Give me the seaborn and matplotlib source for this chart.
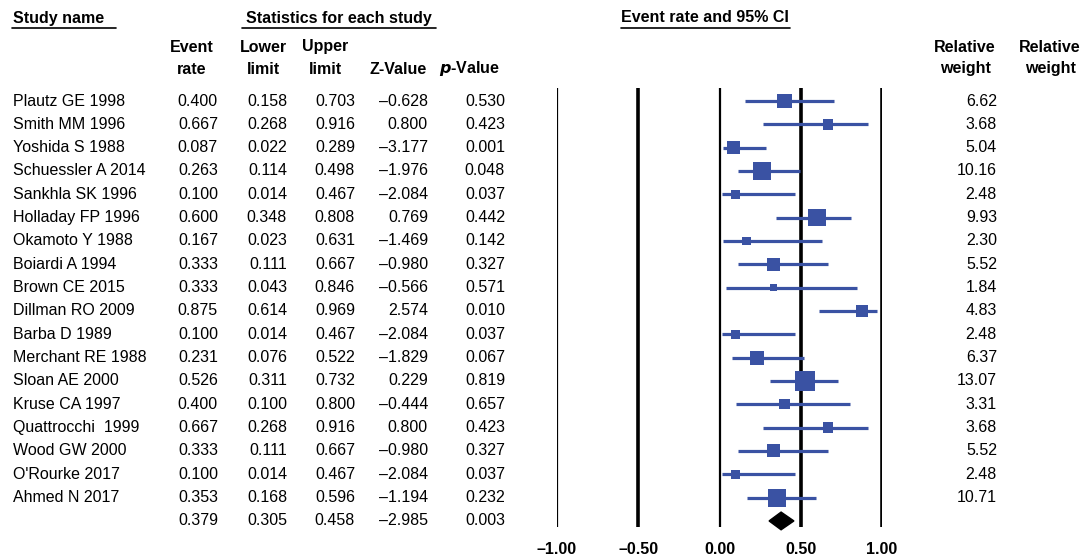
import numpy as np
import pandas as pd
import matplotlib
matplotlib.use("Agg")
import matplotlib.pyplot as plt
import seaborn as sns
from matplotlib import transforms
from matplotlib.lines import Line2D

# ---------------- data ----------------
studies = ["Plautz GE 1998", "Smith MM 1996", "Yoshida S 1988", "Schuessler A 2014",
           "Sankhla SK 1996", "Holladay FP 1996", "Okamoto Y 1988", "Boiardi A 1994",
           "Brown CE 2015", "Dillman RO 2009", "Barba D 1989", "Merchant RE 1988",
           "Sloan AE 2000", "Kruse CA 1997", "Quattrocchi  1999", "Wood GW 2000",
           "O'Rourke 2017", "Ahmed N 2017"]
event_rate = [0.400, 0.667, 0.087, 0.263, 0.100, 0.600, 0.167, 0.333, 0.333,
              0.875, 0.100, 0.231, 0.526, 0.400, 0.667, 0.333, 0.100, 0.353]
lower = [0.158, 0.268, 0.022, 0.114, 0.014, 0.348, 0.023, 0.111, 0.043,
         0.614, 0.014, 0.076, 0.311, 0.100, 0.268, 0.111, 0.014, 0.168]
upper = [0.703, 0.916, 0.289, 0.498, 0.467, 0.808, 0.631, 0.667, 0.846,
         0.969, 0.467, 0.522, 0.732, 0.800, 0.916, 0.667, 0.467, 0.596]
z_value = [-0.628, 0.800, -3.177, -1.976, -2.084, 0.769, -1.469, -0.980, -0.566,
           2.574, -2.084, -1.829, 0.229, -0.444, 0.800, -0.980, -2.084, -1.194]
p_value = [0.530, 0.423, 0.001, 0.048, 0.037, 0.442, 0.142, 0.327, 0.571,
           0.010, 0.037, 0.067, 0.819, 0.657, 0.423, 0.327, 0.037, 0.232]
weight = [6.62, 3.68, 5.04, 10.16, 2.48, 9.93, 2.30, 5.52, 1.84,
          4.83, 2.48, 6.37, 13.07, 3.31, 3.68, 5.52, 2.48, 10.71]
summary_rate, summary_lower, summary_upper = 0.379, 0.305, 0.458
summary_z, summary_p = -2.985, 0.003
x_ticks = [-1.0, -0.5, 0.0, 0.5, 1.0]
x_tick_labels = ["\u20131.00", "\u20130.50", "0.00", "0.50", "1.00"]

# ---------------- styles ----------------
W, H = 1085, 560
BLUE = "#3A52A3"
FS = 11.5
vline_widths = [1.6, 2.6, 1.6, 2.6, 2.6]

sns.set_style("white")
plt.rcParams["font.family"] = ["Liberation Sans", "DejaVu Sans"]
plt.rcParams["text.color"] = "black"
plt.rcParams["xtick.color"] = "black"
plt.rcParams["xtick.labelcolor"] = "black"

df = pd.DataFrame({"study": studies, "rate": event_rate, "lower": lower,
                   "upper": upper, "z": z_value, "p": p_value, "weight": weight})
df["row"] = np.arange(len(df))
summary_row = len(df)

fig = plt.figure(figsize=(W / 100, H / 100), dpi=100)
ax_left, ax_right = 557 / W, 882 / W
ax_top, ax_bottom = 88, 527
ax = fig.add_axes([ax_left, 1 - ax_bottom / H, ax_right - ax_left, (ax_bottom - ax_top) / H])

row_px = 23.33
ax.set_xlim(x_ticks[0], x_ticks[-1])
ax.set_ylim((ax_bottom - 101) / row_px, (ax_top - 101) / row_px)

for t, lw in zip(x_ticks, vline_widths):
    ax.axvline(t, color="black", lw=lw, zorder=1)

ax.hlines(df["row"], df["lower"], df["upper"], color=BLUE, lw=2.3, zorder=2)
wmin, wmax = min(weight), max(weight)
k = 15.7
sns.scatterplot(data=df, x="rate", y="row", size="weight",
                sizes=(k * wmin, k * wmax), size_norm=(wmin, wmax),
                marker="s", color=BLUE, linewidth=0, legend=False,
                ax=ax, zorder=3, clip_on=False)

dh = 0.38
ax.fill([summary_lower, summary_rate, summary_upper, summary_rate],
        [summary_row, summary_row - dh, summary_row, summary_row + dh],
        color="black", zorder=3, clip_on=False)

for s in ax.spines.values():
    s.set_visible(False)
ax.set_yticks([])
ax.set_xticks(x_ticks)
ax.set_xticklabels(x_tick_labels, fontsize=FS, fontweight="bold", color="black")
ax.tick_params(axis="x", length=0, pad=11)
ax.set_xlabel("")
ax.set_ylabel("")

# ---------------- text columns ----------------
trans = transforms.blended_transform_factory(fig.transFigure, ax.transData)

def col(xpx, values, fmt, ha="right", extra=None):
    for r, v in zip(df["row"], values):
        ax.text(xpx / W, r, fmt(v), transform=trans, ha=ha, va="center",
                fontsize=FS, color="black", clip_on=False)
    if extra is not None:
        ax.text(xpx / W, summary_row, fmt(extra), transform=trans, ha=ha,
                va="center", fontsize=FS, color="black", clip_on=False)

num = lambda v: f"{v:.3f}".replace("-", "\u2013")
col(13, df["study"], str, ha="left")
col(218, df["rate"], num, extra=summary_rate)
col(287, df["lower"], num, extra=summary_lower)
col(355, df["upper"], num, extra=summary_upper)
col(428, df["z"], num, extra=summary_z)
col(505, df["p"], num, extra=summary_p)
col(997, df["weight"], lambda v: f"{v:.2f}")

# ---------------- headers ----------------
def ftext(xpx, ypx, s, ha="center", **kw):
    return fig.text(xpx / W, 1 - ypx / H, s, ha=ha, va="center", color="black",
                    fontsize=FS, fontweight="bold", **kw)

def underline(x0, x1, ypx):
    fig.add_artist(Line2D([x0 / W, x1 / W], [1 - ypx / H, 1 - ypx / H],
                          color="black", lw=1.2, transform=fig.transFigure))

ftext(13, 18, "Study name", ha="left")
underline(12, 116, 28)
ftext(339, 18, "Statistics for each study")
underline(242, 436, 28)
ftext(705, 18, "Event rate and 95% CI")
underline(621, 790, 28)

for xc, top, bot in [(192, "Event", "rate"), (263, "Lower", "limit"),
                     (325, "Upper", "limit"), (965, "Relative", "weight"),
                     (1050, "Relative", "weight")]:
    ftext(xc, 47, top)
    ftext(xc, 69, bot)
ftext(398, 69, "Z-Value")
fig.text(470 / W, 1 - 69 / H, "$\\mathbfit{p}$-Value", ha="center", va="center",
         fontsize=FS, fontweight="bold", color="black")

fig.savefig("out.png", dpi=100)
